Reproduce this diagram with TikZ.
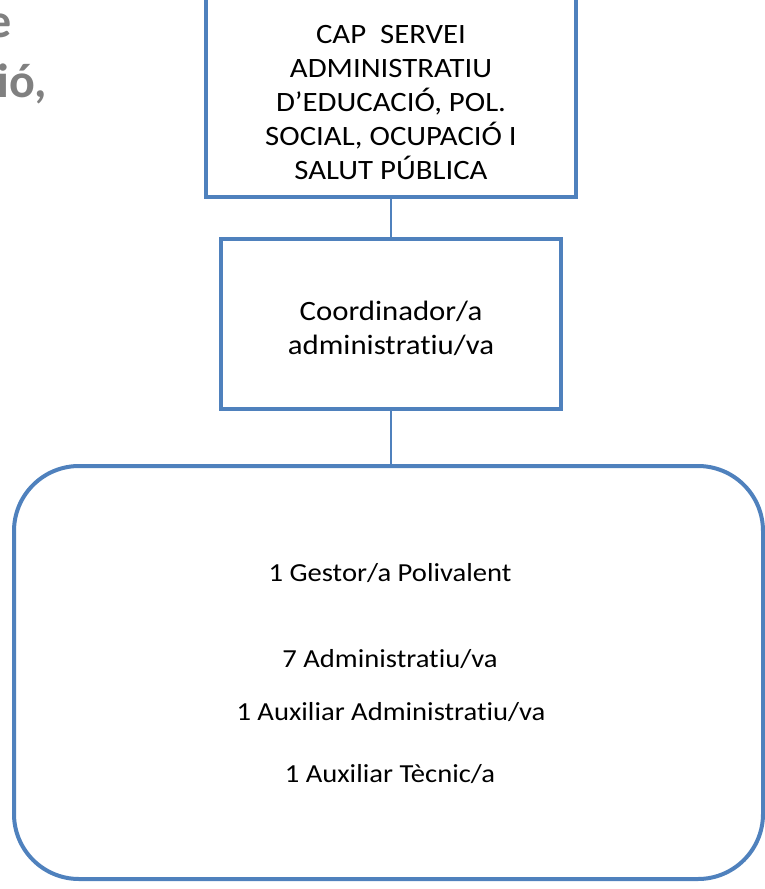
\documentclass[tikz,border=0pt]{standalone}
\usepackage{fontspec}
\setmainfont{Carlito}[FakeStretch=1.1, Ligatures=NoCommon]
\newfontfamily\titlefont{Carlito}[Ligatures=NoCommon]
\definecolor{boxblue}{HTML}{4F81BD}
\definecolor{titlegray}{HTML}{808080}
\begin{document}
\begin{tikzpicture}[x=1pt,y=-1pt,
  box/.style={draw=boxblue, line width=4pt, inner sep=0pt, fill=white},
  link/.style={draw=boxblue, line width=1.5pt},
  lbl/.style={font=\fontsize{28}{34}\selectfont, align=center, text=black, inner sep=0pt},
  small/.style={font=\fontsize{26}{31}\selectfont, text=black, inner sep=0pt, anchor=base},
  ttl/.style={font=\titlefont\bfseries\fontsize{48}{58}\selectfont, text=titlegray, inner sep=0pt}]
\useasboundingbox (0,0) rectangle (765,889);
\clip (0,0) rectangle (765,889);
\node[ttl, anchor=base east] (t1) at (11.5,37) {e};
\node[ttl, anchor=base west] (t2) at (-3,97) {ió,};
\node[box, minimum width=370pt, minimum height=207pt] (cap) at (391,93.5) {};
\node[box, minimum width=340pt, minimum height=170pt] (coord) at (391,324) {};
\node[box, rounded corners=65pt, minimum width=749pt, minimum height=413pt] (team) at (388.5,672.5) {};
\draw[link] (cap.south) -- (coord.north);
\draw[link] (coord.south) -- (coord.south |- team.north);
\node[lbl] (captext) at (391,103) {CAP\ \ SERVEI\\ADMINISTRATIU\\D’EDUCACIÓ, POL.\\SOCIAL, OCUPACIÓ I\\SALUT PÚBLICA};
\node[lbl] (coordtext) at (391,328) {Coordinador/a\\administratiu/va};
\node[small] (g1) at (390,581) {1 Gestor/a Polivalent};
\node[small] (g2) at (390,667) {7 Administratiu/va};
\node[small] (g3) at (391,720) {1 Auxiliar Administratiu/va};
\node[small] (g4) at (390,782) {1 Auxiliar Tècnic/a};
\end{tikzpicture}
\end{document}
